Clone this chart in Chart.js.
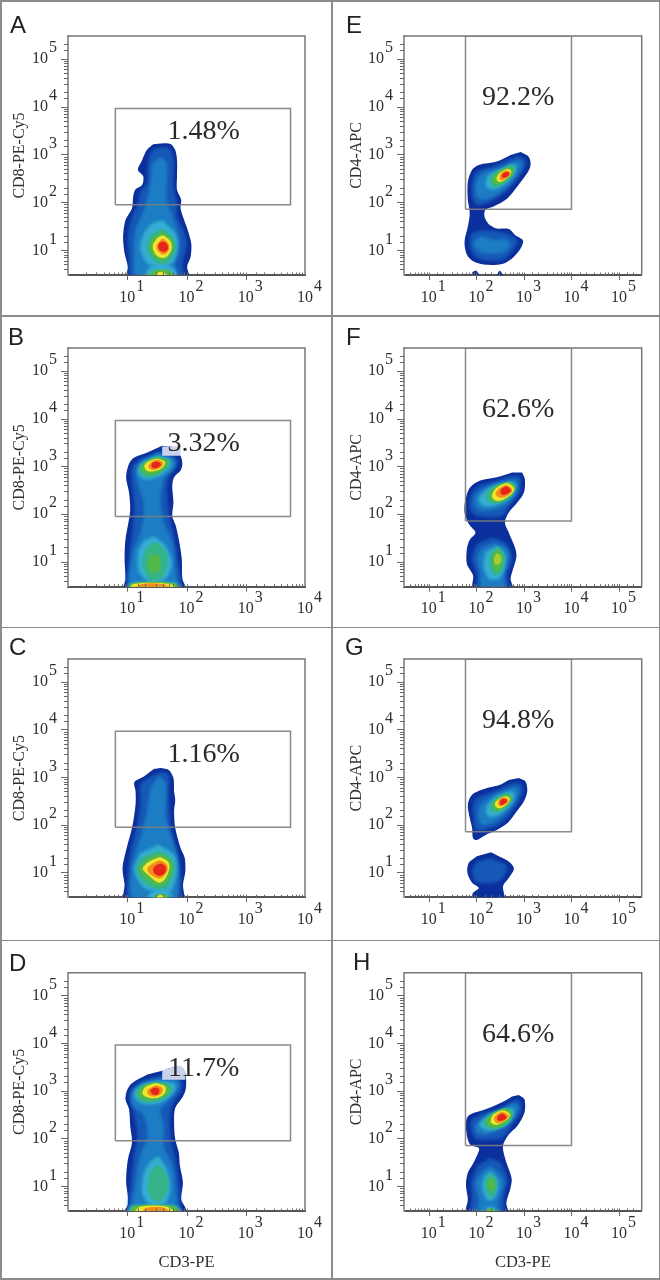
<!DOCTYPE html>
<html>
<head>
<meta charset="utf-8">
<title>Flow cytometry panels</title>
<script src="https://cdn.jsdelivr.net/npm/chart.js@4"></script>
<style>
  html, body { margin: 0; padding: 0; background: #fff; }
  #page { position: relative; width: 660px; height: 1280px; overflow: hidden; }
  #page canvas { position: absolute; filter: blur(0.35px); }
  .rule { position: absolute; background: #8c8c8c; }
</style>
</head>
<body>
<div id="page"></div>
<script>
// Panel texts
const panelLetters = ["A", "B", "C", "D", "E", "F", "G", "H"];
const percentLabels = ["1.48%", "3.32%", "1.16%", "11.7%", "92.2%", "62.6%", "94.8%", "64.6%"];
const leftYTitle = "CD8-PE-Cy5";
const rightYTitle = "CD4-APC";
const xTitle = "CD3-PE";

// Tick labels, as powers of ten
const leftXPowers = [1, 2, 3, 4];
const rightXPowers = [1, 2, 3, 4, 5];
const yPowers = [1, 2, 3, 4, 5];

// Gates, in channel values
const leftGateX = [6.3, 5700];
const leftGateY = [89, 9100];
const rightGateX = [59, 10000];
const rightGateY = [71, 300000];

// Density colours, by heat number (9 sits between green and yellow)
const heatColors = ["#0b2f9c", "#1558b6", "#1c7cc4", "#34aed0", "#34b488", "#52b948", "#efe42c", "#f28c1f", "#e4261c", "#a4cc32"];

// Density contours: each is a list of [log10 x, log10 y], heat numbers run alongside
const heatA = [0, 1, 2, 3, 4, 5, 6, 7, 8, 3, 5, 6];
const contoursA = [
  [[1.56,3.23],[1.73,3.22],[1.81,3.09],[1.84,2.88],[1.84,2.54],[1.84,2.26],[1.91,2.05],[1.90,1.87],[1.96,1.63],[2.02,1.42],[2.08,1.14],[2.07,.86],[2.01,.65],[2.04,.4],[1.0,.4],[1.01,.65],[.955,.93],[.93,1.28],[.97,1.63],[1.08,1.87],[1.10,2.12],[1.14,2.27],[1.25,2.36],[1.27,2.54],[1.18,2.68],[1.25,2.88],[1.33,3.09],[1.44,3.21]],
  [[1.56,3.15],[1.70,3.13],[1.78,2.95],[1.78,2.33],[1.84,1.98],[1.84,1.70],[1.97,1.35],[2.0,1.07],[1.93,.72],[1.94,.4],[1.08,.4],[1.03,.86],[1.01,1.28],[1.08,1.70],[1.18,1.98],[1.22,2.22],[1.34,2.40],[1.34,2.68],[1.37,2.95],[1.45,3.12]],
  [[1.56,2.95],[1.67,2.81],[1.67,2.05],[1.79,1.63],[1.89,1.14],[1.81,.72],[1.79,.4],[1.17,.4],[1.11,.93],[1.14,1.42],[1.28,1.84],[1.37,2.26],[1.42,2.81]],
  [[1.59,1.63],[1.81,1.35],[1.85,1.03],[1.76,.72],[1.56,.65],[1.34,.72],[1.22,1.03],[1.28,1.35],[1.42,1.56]],
  [[1.59,1.42],[1.76,1.24],[1.80,1.03],[1.73,.83],[1.59,.72],[1.44,.83],[1.35,1.03],[1.40,1.28]],
  [[1.59,1.35],[1.73,1.22],[1.76,1.06],[1.70,.90],[1.59,.80],[1.48,.87],[1.39,1.06],[1.46,1.24]],
  [[1.60,1.29],[1.71,1.17],[1.73,1.03],[1.67,.90],[1.59,.86],[1.49,.93],[1.45,1.08],[1.51,1.22]],
  [[1.60,1.22],[1.67,1.14],[1.69,1.03],[1.62,.93],[1.53,1.0],[1.52,1.10]],
  [[1.61,1.16],[1.66,1.10],[1.66,1.01],[1.60,.99],[1.55,1.03],[1.55,1.12]],
  [[1.25,.4],[1.39,.65],[1.59,.69],[1.79,.62],[1.87,.4]],
  [[1.34,.4],[1.45,.55],[1.59,.57],[1.73,.53],[1.81,.4]],
  [[1.45,.4],[1.56,.52],[1.70,.4]]
];

const heatB = [0, 1, 2, 3, 3, 4, 5, 6, 7, 8, 4, 5, 3, 5, 6, 7];
const contoursB = [
  [[1.59,3.43],[1.67,3.42],[1.81,3.39],[1.90,3.22],[1.93,3.05],[1.90,2.91],[1.79,2.77],[1.76,2.59],[1.78,2.24],[1.76,1.96],[1.82,1.75],[1.87,1.47],[1.92,1.06],[1.93,.64],[1.99,.4],[.944,.4],[.97,.64],[.955,1.06],[.97,1.47],[1.03,1.89],[1.05,2.10],[1.03,2.45],[.98,2.77],[1.03,3.05],[1.11,3.18],[1.34,3.29]],
  [[1.56,3.32],[1.81,3.19],[1.85,3.05],[1.73,2.87],[1.67,2.59],[1.70,2.03],[1.79,1.54],[1.85,1.06],[1.87,.4],[1.03,.4],[1.03,1.06],[1.08,1.61],[1.12,2.10],[1.08,2.66],[1.08,2.98],[1.22,3.15]],
  [[1.53,3.28],[1.79,3.15],[1.79,2.94],[1.62,2.73],[1.56,2.24],[1.62,1.82],[1.76,1.40],[1.81,.92],[1.81,.4],[1.08,.4],[1.08,1.13],[1.22,1.61],[1.28,2.17],[1.17,2.66],[1.14,2.94],[1.28,3.15]],
  [[1.51,3.22],[1.73,3.13],[1.73,2.98],[1.51,2.77],[1.28,2.73],[1.18,2.87],[1.22,3.05]],
  [[1.45,1.54],[1.65,1.33],[1.76,.95],[1.65,.64],[1.39,.57],[1.20,.78],[1.18,1.20],[1.28,1.44]],
  [[1.49,3.19],[1.70,3.12],[1.67,2.98],[1.48,2.82],[1.31,2.80],[1.21,2.91],[1.28,3.06]],
  [[1.51,3.16],[1.66,3.10],[1.62,2.98],[1.48,2.87],[1.33,2.86],[1.25,2.95],[1.34,3.08]],
  [[1.51,3.14],[1.62,3.08],[1.57,2.98],[1.45,2.92],[1.34,2.93],[1.31,3.01],[1.39,3.09]],
  [[1.51,3.12],[1.59,3.06],[1.53,2.98],[1.42,2.95],[1.38,3.01],[1.42,3.07]],
  [[1.49,3.08],[1.55,3.04],[1.49,2.99],[1.43,3.00],[1.44,3.05]],
  [[1.48,1.40],[1.62,1.23],[1.65,.92],[1.56,.67],[1.37,.67],[1.28,.95],[1.34,1.27]],
  [[1.46,1.16],[1.53,1.06],[1.53,.85],[1.45,.78],[1.37,.88],[1.38,1.06]],
  [[.99,.4],[1.06,.55],[1.39,.58],[1.84,.55],[1.93,.4]],
  [[1.02,.4],[1.08,.53],[1.79,.53],[1.85,.4]],
  [[1.06,.4],[1.11,.51],[1.73,.51],[1.81,.4]],
  [[1.17,.4],[1.22,.50],[1.62,.50],[1.70,.4]]
];

const heatC = [0, 1, 2, 3, 4, 5, 6, 7, 8, 3, 5, 6];
const contoursC = [
  [[1.56,3.19],[1.70,3.15],[1.78,2.98],[1.79,2.70],[1.81,2.52],[1.79,2.28],[1.81,1.93],[1.90,1.51],[1.97,1.30],[1.98,1.02],[1.94,.74],[1.94,.4],[.955,.4],[.955,.74],[.92,1.09],[.99,1.51],[1.08,1.93],[1.14,2.42],[1.14,2.70],[1.12,2.89],[1.28,3.01],[1.45,3.17]],
  [[1.56,3.10],[1.70,3.05],[1.70,2.63],[1.74,1.93],[1.84,1.44],[1.90,1.02],[1.85,.4],[1.05,.4],[1.02,1.09],[1.08,1.58],[1.17,2.0],[1.22,2.49],[1.22,2.84],[1.39,3.01]],
  [[1.53,3.01],[1.65,2.87],[1.65,2.21],[1.73,1.79],[1.84,1.37],[1.87,1.02],[1.79,.4],[1.11,.4],[1.07,1.09],[1.20,1.65],[1.31,2.14],[1.39,2.77]],
  [[1.53,1.58],[1.79,1.37],[1.84,1.06],[1.73,.60],[1.53,.60],[1.28,.67],[1.11,1.06],[1.22,1.40]],
  [[1.53,1.43],[1.73,1.30],[1.79,1.06],[1.67,.71],[1.51,.67],[1.28,.81],[1.17,1.08],[1.28,1.30]],
  [[1.53,1.36],[1.70,1.27],[1.74,1.08],[1.65,.81],[1.53,.74],[1.34,.88],[1.22,1.08],[1.34,1.25]],
  [[1.55,1.30],[1.67,1.21],[1.69,1.08],[1.62,.87],[1.53,.81],[1.39,.94],[1.28,1.08],[1.39,1.21]],
  [[1.56,1.23],[1.65,1.15],[1.65,1.02],[1.55,.90],[1.39,.99],[1.36,1.08],[1.45,1.17]],
  [[1.57,1.17],[1.63,1.10],[1.62,1.01],[1.54,.95],[1.46,1.02],[1.47,1.10]],
  [[1.28,.4],[1.42,.60],[1.56,.64],[1.73,.57],[1.81,.4]],
  [[1.37,.4],[1.56,.53],[1.76,.4]],
  [[1.45,.4],[1.56,.50],[1.67,.4]]
];

const heatD = [0, 1, 2, 3, 4, 5, 6, 7, 8, 3, 4, 3, 5, 6, 7];
const contoursD = [
  [[1.59,3.42],[1.73,3.48],[1.90,3.51],[1.98,3.37],[1.99,3.06],[1.94,2.88],[1.81,2.64],[1.79,2.33],[1.81,1.98],[1.87,1.70],[1.89,1.42],[1.94,1.07],[1.91,.72],[1.98,.55],[2.0,.4],[.955,.4],[1.01,.62],[1.01,.79],[.98,1.10],[1.01,1.56],[1.08,1.91],[1.05,2.26],[1.03,2.61],[.97,2.82],[1.0,3.02],[1.08,3.16],[1.34,3.34]],
  [[1.56,3.32],[1.84,3.32],[1.92,3.16],[1.91,2.99],[1.76,2.71],[1.72,2.33],[1.74,1.98],[1.81,1.56],[1.87,1.07],[1.84,.4],[1.06,.4],[1.07,1.14],[1.11,1.63],[1.17,2.05],[1.11,2.54],[1.04,2.88],[1.11,3.09],[1.28,3.23]],
  [[1.51,3.25],[1.84,3.23],[1.87,3.06],[1.67,2.75],[1.56,2.61],[1.62,2.26],[1.62,1.84],[1.76,1.42],[1.81,.97],[1.79,.4],[1.11,.4],[1.14,1.07],[1.22,1.63],[1.34,2.05],[1.28,2.47],[1.08,2.71],[1.08,2.99],[1.25,3.16]],
  [[1.48,3.20],[1.79,3.16],[1.81,3.02],[1.62,2.78],[1.34,2.71],[1.14,2.82],[1.12,2.99],[1.25,3.13]],
  [[1.48,3.16],[1.70,3.12],[1.74,3.0],[1.59,2.84],[1.34,2.78],[1.18,2.87],[1.18,2.99],[1.28,3.11]],
  [[1.48,3.15],[1.66,3.09],[1.69,2.99],[1.56,2.87],[1.37,2.83],[1.22,2.90],[1.23,3.01],[1.34,3.11]],
  [[1.48,3.14],[1.62,3.08],[1.62,2.97],[1.51,2.88],[1.37,2.88],[1.28,2.94],[1.31,3.05]],
  [[1.48,3.09],[1.57,3.05],[1.57,2.97],[1.48,2.91],[1.38,2.93],[1.36,3.0]],
  [[1.47,3.05],[1.52,3.02],[1.51,2.95],[1.44,2.95],[1.41,3.0]],
  [[1.53,1.63],[1.67,1.35],[1.73,.97],[1.65,.65],[1.37,.62],[1.25,.86],[1.28,1.28],[1.39,1.52]],
  [[1.53,1.42],[1.65,1.21],[1.66,.93],[1.56,.72],[1.42,.76],[1.37,1.0],[1.42,1.31]],
  [[.99,.4],[1.06,.58],[1.84,.58],[1.95,.4]],
  [[1.06,.4],[1.11,.56],[1.79,.56],[1.87,.4]],
  [[1.11,.4],[1.22,.54],[1.67,.54],[1.79,.4]],
  [[1.22,.4],[1.34,.52],[1.62,.52],[1.70,.4]]
];

const heatE = [0, 0, 0, 1, 2, 3, 4, 5, 6, 7, 8, 1, 2];
const contoursE = [
  [[2.93,3.05],[3.10,2.95],[3.14,2.78],[3.07,2.61],[2.86,2.33],[2.65,2.08],[2.36,1.91],[2.19,1.84],[2.17,1.70],[2.26,1.54],[2.43,1.45],[2.68,1.44],[2.82,1.31],[2.98,1.20],[2.93,1.03],[2.79,.86],[2.58,.72],[2.22,.69],[1.94,.76],[1.80,.90],[1.75,1.17],[1.82,1.49],[1.86,1.77],[1.82,2.05],[1.82,2.43],[1.91,2.68],[2.05,2.78],[2.43,2.85],[2.72,2.99]],
  [[2.0,.57],[2.10,.4],[1.87,.4],[1.93,.55]],
  [[2.50,.57],[2.59,.4],[2.42,.4],[2.46,.54]],
  [[2.89,2.97],[3.03,2.88],[3.03,2.75],[2.82,2.43],[2.58,2.19],[2.29,2.01],[2.01,1.94],[1.91,2.12],[1.91,2.40],[2.01,2.64],[2.36,2.76],[2.68,2.90]],
  [[2.86,2.88],[2.96,2.83],[2.89,2.61],[2.65,2.33],[2.36,2.12],[2.08,2.05],[1.98,2.19],[2.01,2.47],[2.19,2.64],[2.50,2.71]],
  [[2.75,2.81],[2.84,2.76],[2.79,2.57],[2.58,2.36],[2.33,2.26],[2.19,2.36],[2.26,2.57],[2.50,2.69]],
  [[2.72,2.76],[2.80,2.70],[2.72,2.54],[2.50,2.36],[2.36,2.34],[2.31,2.47],[2.43,2.62]],
  [[2.68,2.71],[2.76,2.66],[2.68,2.54],[2.50,2.41],[2.40,2.41],[2.37,2.50],[2.50,2.63]],
  [[2.67,2.68],[2.71,2.63],[2.65,2.54],[2.52,2.45],[2.45,2.47],[2.47,2.55],[2.56,2.63]],
  [[2.66,2.64],[2.69,2.61],[2.61,2.52],[2.52,2.48],[2.52,2.55],[2.58,2.62]],
  [[2.65,2.62],[2.67,2.59],[2.61,2.54],[2.56,2.54],[2.58,2.58]],
  [[2.65,1.35],[2.86,1.20],[2.75,.97],[2.54,.79],[2.22,.78],[1.98,.86],[1.86,1.10],[1.91,1.35],[2.22,1.42]],
  [[2.58,1.24],[2.72,1.14],[2.61,.97],[2.36,.92],[2.05,.97],[1.94,1.14],[2.08,1.28],[2.36,1.21]]
];

const heatF = [0, 1, 1, 2, 3, 4, 5, 6, 7, 8, 2, 3, 4, 5, 9, 2];
const contoursF = [
  [[2.96,2.87],[3.02,2.73],[3.0,2.45],[2.86,2.24],[2.68,2.03],[2.60,1.82],[2.68,1.61],[2.82,1.27],[2.84,1.09],[2.75,.78],[2.72,.64],[2.76,.4],[1.93,.4],[1.93,.71],[1.80,.95],[1.80,1.27],[1.86,1.46],[1.98,1.61],[1.84,1.79],[1.75,2.03],[1.77,2.31],[1.87,2.56],[2.08,2.70],[2.43,2.77],[2.75,2.87]],
  [[2.89,2.80],[2.94,2.70],[2.91,2.45],[2.72,2.21],[2.54,1.96],[2.01,1.96],[1.87,2.10],[1.87,2.35],[2.01,2.56],[2.36,2.68],[2.72,2.79]],
  [[2.33,1.51],[2.61,1.40],[2.75,1.09],[2.65,.71],[2.65,.4],[2.04,.4],[2.01,.74],[1.91,1.06],[2.01,1.37]],
  [[2.82,2.73],[2.88,2.63],[2.79,2.35],[2.54,2.14],[2.08,2.07],[1.95,2.21],[2.01,2.42],[2.29,2.59],[2.61,2.68]],
  [[2.75,2.68],[2.84,2.59],[2.72,2.35],[2.43,2.19],[2.15,2.17],[2.04,2.31],[2.22,2.52],[2.50,2.64]],
  [[2.72,2.66],[2.81,2.56],[2.68,2.35],[2.43,2.24],[2.26,2.28],[2.22,2.42],[2.43,2.59]],
  [[2.68,2.64],[2.80,2.54],[2.66,2.37],[2.47,2.28],[2.33,2.30],[2.32,2.42],[2.47,2.58]],
  [[2.65,2.63],[2.77,2.52],[2.65,2.38],[2.47,2.30],[2.36,2.35],[2.40,2.49],[2.52,2.58]],
  [[2.63,2.59],[2.73,2.51],[2.63,2.40],[2.50,2.37],[2.43,2.42],[2.50,2.52]],
  [[2.63,2.56],[2.70,2.49],[2.62,2.44],[2.54,2.43],[2.54,2.50]],
  [[2.40,1.40],[2.65,1.27],[2.68,1.06],[2.58,.71],[2.58,.4],[2.12,.4],[2.08,.78],[2.01,1.06],[2.12,1.30]],
  [[2.43,1.33],[2.61,1.16],[2.59,.85],[2.47,.64],[2.26,.64],[2.15,.92],[2.19,1.20]],
  [[2.45,1.30],[2.56,1.13],[2.54,.88],[2.43,.74],[2.32,.85],[2.31,1.13]],
  [[2.45,1.23],[2.54,1.09],[2.50,.92],[2.43,.81],[2.36,.95],[2.36,1.13]],
  [[2.45,1.16],[2.50,1.07],[2.47,.97],[2.41,.97],[2.40,1.09]],
  [[2.22,.4],[2.43,.53],[2.65,.4]]
];

const heatG = [0, 0, 1, 2, 3, 4, 5, 6, 7, 8, 1];
const contoursG = [
  [[2.89,2.98],[3.03,2.91],[3.07,2.70],[3.0,2.49],[2.82,2.24],[2.65,2.03],[2.43,1.89],[2.22,1.80],[2.01,1.68],[1.93,1.71],[1.91,1.93],[1.86,2.14],[1.82,2.42],[1.91,2.63],[2.22,2.77],[2.50,2.84],[2.68,2.94]],
  [[2.31,1.42],[2.43,1.36],[2.68,1.23],[2.79,1.08],[2.68,.88],[2.56,.71],[2.58,.4],[1.91,.4],[1.93,.57],[2.05,.67],[1.91,.78],[1.81,.99],[1.84,1.20],[2.01,1.34]],
  [[2.86,2.89],[2.96,2.82],[2.98,2.70],[2.89,2.49],[2.72,2.24],[2.47,2.0],[2.15,1.89],[1.99,1.89],[1.94,2.17],[1.93,2.42],[2.01,2.56],[2.43,2.73],[2.68,2.84]],
  [[2.79,2.80],[2.89,2.73],[2.82,2.49],[2.61,2.24],[2.36,2.05],[2.12,2.0],[2.03,2.21],[2.08,2.42],[2.36,2.63]],
  [[2.72,2.71],[2.81,2.65],[2.75,2.45],[2.58,2.28],[2.36,2.16],[2.22,2.21],[2.21,2.38],[2.40,2.59]],
  [[2.65,2.65],[2.75,2.59],[2.68,2.45],[2.50,2.29],[2.36,2.29],[2.31,2.42],[2.47,2.57]],
  [[2.63,2.61],[2.72,2.56],[2.65,2.45],[2.50,2.33],[2.40,2.35],[2.37,2.43],[2.49,2.54]],
  [[2.61,2.58],[2.68,2.54],[2.61,2.44],[2.50,2.37],[2.42,2.40],[2.43,2.47],[2.52,2.54]],
  [[2.60,2.55],[2.65,2.51],[2.58,2.44],[2.49,2.42],[2.49,2.49],[2.54,2.54]],
  [[2.58,2.53],[2.62,2.50],[2.56,2.45],[2.52,2.45],[2.53,2.50]],
  [[2.29,1.30],[2.61,1.16],[2.65,1.06],[2.47,.81],[2.01,.80],[1.91,1.02],[2.01,1.23]]
];

const heatH = [0, 1, 2, 3, 4, 5, 6, 7, 8, 1, 2, 3, 4, 5, 3, 5];
const contoursH = [
  [[2.89,2.91],[3.01,2.82],[3.01,2.54],[2.86,2.26],[2.68,2.08],[2.56,1.84],[2.61,1.56],[2.74,1.17],[2.72,.97],[2.63,.65],[2.66,.4],[1.79,.4],[1.82,.72],[1.78,1.03],[1.82,1.28],[1.94,1.49],[2.05,1.73],[2.05,1.80],[1.87,1.87],[1.79,2.12],[1.79,2.40],[1.87,2.50],[2.22,2.62],[2.58,2.78],[2.75,2.88]],
  [[2.86,2.83],[2.94,2.73],[2.93,2.54],[2.75,2.29],[2.54,2.01],[2.01,1.98],[1.91,2.12],[1.89,2.36],[2.08,2.50],[2.50,2.64]],
  [[2.79,2.75],[2.88,2.68],[2.82,2.47],[2.61,2.26],[2.22,2.08],[2.01,2.12],[1.98,2.29],[2.22,2.47],[2.54,2.61]],
  [[2.65,2.64],[2.79,2.61],[2.72,2.36],[2.43,2.19],[2.19,2.17],[2.06,2.29],[2.26,2.50]],
  [[2.61,2.62],[2.75,2.55],[2.68,2.36],[2.43,2.22],[2.26,2.24],[2.17,2.33],[2.36,2.52]],
  [[2.58,2.61],[2.72,2.52],[2.65,2.38],[2.43,2.26],[2.29,2.28],[2.22,2.36],[2.40,2.52]],
  [[2.56,2.57],[2.68,2.50],[2.61,2.40],[2.43,2.31],[2.33,2.34],[2.36,2.47],[2.47,2.54]],
  [[2.54,2.54],[2.65,2.47],[2.56,2.38],[2.43,2.35],[2.40,2.43],[2.47,2.50]],
  [[2.54,2.50],[2.61,2.45],[2.54,2.40],[2.47,2.40],[2.47,2.45]],
  [[2.29,1.59],[2.50,1.49],[2.65,1.14],[2.58,.79],[2.54,.4],[1.91,.4],[1.91,.79],[1.89,1.07],[2.01,1.42]],
  [[2.29,1.42],[2.47,1.28],[2.58,1.07],[2.47,.72],[2.43,.4],[2.05,.4],[2.05,.72],[1.98,1.07],[2.12,1.31]],
  [[2.29,1.31],[2.43,1.17],[2.47,.97],[2.36,.72],[2.22,.72],[2.12,.97],[2.17,1.21]],
  [[2.31,1.24],[2.40,1.10],[2.40,.93],[2.32,.79],[2.22,.93],[2.22,1.14]],
  [[2.31,1.15],[2.36,1.06],[2.35,.94],[2.29,.93],[2.25,1.03]],
  [[2.05,.4],[2.29,.57],[2.54,.4]],
  [[2.15,.4],[2.29,.52],[2.43,.4]]
];

// Pale patches sitting behind the B and D percent labels
const patchB = [[1.59,3.415],[1.90,3.415],[1.90,3.22],[1.59,3.22]];
const patchD = [[1.59,3.43],[1.73,3.48],[1.90,3.53],[1.98,3.41],[1.98,3.23],[1.59,3.23]];

const allHeats = [heatA, heatB, heatC, heatD, heatE, heatF, heatG, heatH];
const allContours = [contoursA, contoursB, contoursC, contoursD, contoursE, contoursF, contoursG, contoursH];
const allPatches = [null, patchB, null, patchD, null, null, null, null];

// Cell and plot geometry, page pixels
const rows = [
  { top: 1, height: 313, plotTop: 36, plotBottom: 275 },
  { top: 317, height: 309, plotTop: 348, plotBottom: 586.7 },
  { top: 629, height: 309, plotTop: 659, plotBottom: 897.3 },
  { top: 941, height: 336, plotTop: 972.7, plotBottom: 1211 }
];
const columns = [
  { left: 2, width: 328, plotLeft: 68, plotRight: 305, xMin: 1, xMax: 10000, powers: leftXPowers,
    gateX: leftGateX, gateY: leftGateY, yTitle: leftYTitle, yTitlePad: 8, percentAt: [2.29, 3.32] },
  { left: 333, width: 325, plotLeft: 404, plotRight: 641.7, xMin: 3, xMax: 300000, powers: rightXPowers,
    gateX: rightGateX, gateY: rightGateY, yTitle: rightYTitle, yTitlePad: 14, percentAt: [2.88, 4.025] }
];
// Where each panel letter starts and sits, page pixels
const letterSpots = [[10, 33], [8, 345], [9, 655], [9, 971], [346, 33], [346, 345], [345, 655], [353, 970]];

const SERIF = '"Liberation Serif", serif';
const TEXT_COLOR = "#2f2f2f";

// Rules around the cells
function drawRules(page) {
  const rules = [
    [0, 0, 660, 1.5], [0, 315, 660, 1.5], [0, 626.5, 660, 1.5], [0, 939.5, 660, 1.5], [0, 1278, 660, 1.5],
    [0, 0, 1.5, 1280], [331, 0, 1.5, 1280], [658.5, 0, 1.5, 1280]
  ];
  rules.forEach((r) => {
    const div = document.createElement("div");
    div.className = "rule";
    div.style.cssText = `left:${r[0]}px;top:${r[1]}px;width:${r[2]}px;height:${r[3]}px`;
    page.appendChild(div);
  });
}

function toPoints(list) {
  return list.map((p) => ({ x: 10 ** p[0], y: 10 ** p[1] }));
}

// Blur goes on the drawing state before the next dataset's fill
function softFor(chart, index) {
  const ds = chart.data.datasets[index];
  return ds && ds.softness ? `blur(${ds.softness}px)` : "none";
}

const softContours = {
  id: "softContours",
  beforeDatasetsDraw(chart) {
    chart.ctx.filter = softFor(chart, 0);
  },
  afterDatasetDraw(chart, args) {
    chart.ctx.filter = softFor(chart, args.index + 1);
  },
  afterDatasetsDraw(chart) {
    chart.ctx.filter = "none";
  }
};

// Frame, log tick marks, superscript labels, percent and panel letter
const flowAxes = {
  id: "flowAxes",
  afterDraw(chart, args, opts) {
    const ctx = chart.ctx;
    const area = chart.chartArea;
    const xs = chart.scales.x;
    const ys = chart.scales.y;
    ctx.save();
    ctx.strokeStyle = "#777";
    ctx.lineWidth = 1.5;
    ctx.beginPath();
    ctx.moveTo(area.left, area.top);
    ctx.lineTo(area.right, area.top);
    ctx.lineTo(area.right, area.bottom);
    ctx.stroke();

    ctx.strokeStyle = "#666";
    ctx.lineWidth = 1;
    ctx.beginPath();
    xs.ticks.forEach((t) => {
      if (t.value <= xs.min || t.value >= xs.max) return;
      const px = Math.round(xs.getPixelForValue(t.value)) + 0.5;
      const major = Number.isInteger(Math.round(Math.log10(t.value) * 1e6) / 1e6);
      ctx.moveTo(px, area.bottom - 2.5);
      ctx.lineTo(px, area.bottom + (major ? 5 : 0));
    });
    ys.ticks.forEach((t) => {
      if (t.value <= ys.min || t.value >= ys.max) return;
      const py = Math.round(ys.getPixelForValue(t.value)) + 0.5;
      const major = Number.isInteger(Math.round(Math.log10(t.value) * 1e6) / 1e6);
      ctx.moveTo(area.left, py);
      ctx.lineTo(area.left - (major ? 7 : 4), py);
    });
    ctx.stroke();

    ctx.fillStyle = TEXT_COLOR;
    ctx.font = `16px ${SERIF}`;
    ctx.textBaseline = "alphabetic";
    opts.xPowers.forEach((p) => {
      const px = xs.getPixelForValue(10 ** p);
      ctx.textAlign = "center";
      ctx.fillText("10", px, area.bottom + 26.5);
      ctx.textAlign = "left";
      ctx.fillText(String(p), px + 9, area.bottom + 15.5);
    });
    opts.yPowers.forEach((p) => {
      const py = ys.getPixelForValue(10 ** p);
      ctx.textAlign = "right";
      ctx.fillText("10", area.left - 20, py + 4.5);
      ctx.textAlign = "left";
      ctx.fillText(String(p), area.left - 19, py - 6.5);
    });

    ctx.font = `28px ${SERIF}`;
    ctx.textAlign = "center";
    ctx.fillStyle = "#2a2a2a";
    ctx.fillText(opts.percent, xs.getPixelForValue(10 ** opts.percentAt[0]), ys.getPixelForValue(10 ** opts.percentAt[1]));

    ctx.font = '24px "Liberation Sans", sans-serif';
    ctx.textAlign = "left";
    ctx.fillStyle = "#222";
    ctx.fillText(opts.letter, opts.letterX, opts.letterY);
    ctx.restore();
  }
};

function buildDatasets(index, col) {
  const sets = allContours[index].map((contour, i) => {
    const heat = allHeats[index][i];
    // hot contours get a same-colour outline so the small spots hold their size under the blur
    const hot = heat >= 4;
    const points = toPoints(contour);
    if (hot) points.push(points[0]);
    return {
      data: points,
      showLine: true,
      fill: "shape",
      pointRadius: 0,
      borderWidth: hot ? 2.5 : 0,
      borderColor: hot ? heatColors[heat] : "transparent",
      backgroundColor: heatColors[heat],
      tension: 0.3,
      softness: heat === 0 ? 0 : heat < 4 ? 1.5 : 0.6
    };
  });
  if (allPatches[index]) {
    sets.push({
      data: toPoints(allPatches[index]),
      showLine: true,
      fill: "shape",
      pointRadius: 0,
      borderWidth: 0,
      borderColor: "transparent",
      backgroundColor: "#c9d3ea",
      tension: 0
    });
  }
  const gx = col.gateX;
  const gy = col.gateY;
  sets.push({
    data: [
      { x: gx[0], y: gy[0] }, { x: gx[1], y: gy[0] }, { x: gx[1], y: gy[1] },
      { x: gx[0], y: gy[1] }, { x: gx[0], y: gy[0] }
    ],
    showLine: true,
    fill: false,
    pointRadius: 0,
    borderWidth: 1.5,
    borderColor: "rgba(125,125,125,0.9)",
    tension: 0
  });
  sets.forEach((s, i) => { s.order = -i; });
  return sets;
}

function drawPanel(page, index) {
  const col = columns[index < 4 ? 0 : 1];
  const row = rows[index % 4];
  const canvas = document.createElement("canvas");
  canvas.width = col.width;
  canvas.height = row.height;
  canvas.style.left = col.left + "px";
  canvas.style.top = row.top + "px";
  page.appendChild(canvas);

  const showXTitle = index % 4 === 3;
  new Chart(canvas.getContext("2d"), {
    type: "scatter",
    data: { datasets: buildDatasets(index, col) },
    options: {
      responsive: false,
      animation: false,
      events: [],
      layout: {
        padding: {
          left: 0,
          top: row.plotTop - row.top,
          right: col.left + col.width - col.plotRight,
          bottom: 0
        }
      },
      plugins: {
        legend: { display: false },
        tooltip: { enabled: false },
        flowAxes: {
          xPowers: col.powers,
          yPowers: yPowers,
          percent: percentLabels[index],
          percentAt: col.percentAt,
          letter: panelLetters[index],
          letterX: letterSpots[index][0] - col.left,
          letterY: letterSpots[index][1] - row.top
        }
      },
      scales: {
        x: {
          type: "logarithmic",
          min: col.xMin,
          max: col.xMax,
          grid: { display: false },
          border: { color: "#555", width: 2 },
          ticks: { display: false },
          title: {
            display: showXTitle,
            text: xTitle,
            color: TEXT_COLOR,
            font: { family: SERIF, size: 16.5 },
            padding: { top: 0, bottom: 4 }
          },
          afterFit(scale) { scale.height = row.top + row.height - row.plotBottom; }
        },
        y: {
          type: "logarithmic",
          min: 3,
          max: 300000,
          grid: { display: false },
          border: { color: "#999", width: 2 },
          ticks: { display: false },
          title: {
            display: true,
            text: col.yTitle,
            color: TEXT_COLOR,
            font: { family: SERIF, size: 16 },
            padding: { top: col.yTitlePad, bottom: 0 }
          },
          afterFit(scale) { scale.width = col.plotLeft - col.left; }
        }
      }
    },
    plugins: [softContours, flowAxes]
  });
}

window.addEventListener("load", function () {
  const page = document.getElementById("page");
  drawRules(page);
  panelLetters.forEach((letter, i) => drawPanel(page, i));
});
</script>
</body>
</html>
